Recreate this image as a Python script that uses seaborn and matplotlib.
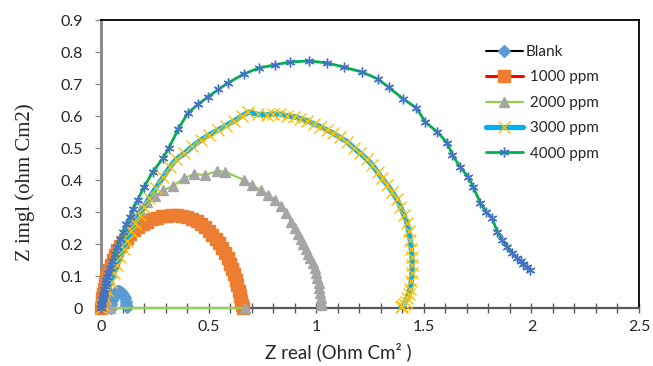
import numpy as np
import pandas as pd
import matplotlib
matplotlib.use("Agg")
import matplotlib.pyplot as plt
from matplotlib.ticker import MultipleLocator, FuncFormatter
import seaborn as sns

# Nyquist data (Z real, Z imag in Ohm cm2)
blank_x = [0.045, 0.047, 0.050, 0.055, 0.061, 0.068, 0.076, 0.084, 0.092, 0.099,
           0.105, 0.110, 0.114, 0.117, 0.119]
blank_y = [0.000, 0.012, 0.024, 0.035, 0.043, 0.049, 0.052, 0.053, 0.051, 0.046,
           0.039, 0.030, 0.020, 0.010, 0.002]

p1000_x = [0.000, 0.003, 0.006, 0.010, 0.014, 0.019, 0.024, 0.030, 0.037, 0.045,
           0.054, 0.064, 0.076, 0.089, 0.103, 0.119, 0.136, 0.154, 0.173, 0.193,
           0.214, 0.236, 0.259, 0.282, 0.306, 0.330, 0.354, 0.378, 0.401, 0.423,
           0.444, 0.464, 0.483, 0.501, 0.518, 0.534, 0.549, 0.563, 0.576, 0.588,
           0.599, 0.609, 0.618, 0.626, 0.634, 0.641, 0.647, 0.652, 0.656, 0.660]
p1000_y = [0.000, 0.015, 0.030, 0.045, 0.060, 0.075, 0.090, 0.105, 0.120, 0.135,
           0.150, 0.165, 0.180, 0.194, 0.207, 0.220, 0.232, 0.243, 0.253, 0.262,
           0.270, 0.277, 0.282, 0.286, 0.289, 0.290, 0.290, 0.288, 0.284, 0.278,
           0.271, 0.262, 0.252, 0.241, 0.229, 0.216, 0.202, 0.187, 0.171, 0.155,
           0.139, 0.122, 0.105, 0.088, 0.071, 0.054, 0.038, 0.023, 0.010, 0.000]

p2000_x = [0.670, 0.040, 0.010, 0.020, 0.035, 0.055, 0.075, 0.095, 0.120, 0.150,
           0.180, 0.215, 0.250, 0.290, 0.335, 0.385, 0.430, 0.485, 0.540, 0.575,
           0.665, 0.700, 0.742, 0.776, 0.810, 0.836, 0.860, 0.884, 0.900, 0.915,
           0.928, 0.940, 0.952, 0.962, 0.973, 0.984, 0.993, 1.000, 1.006, 1.011,
           1.015, 1.018, 1.020, 1.021, 1.022]
p2000_y = [0.000, 0.000, 0.020, 0.050, 0.090, 0.140, 0.180, 0.215, 0.250, 0.280,
           0.305, 0.330, 0.350, 0.368, 0.382, 0.405, 0.418, 0.416, 0.428, 0.426,
           0.400, 0.384, 0.369, 0.353, 0.338, 0.318, 0.296, 0.270, 0.250, 0.232,
           0.215, 0.200, 0.185, 0.170, 0.155, 0.140, 0.124, 0.108, 0.093, 0.077,
           0.062, 0.046, 0.031, 0.018, 0.008]

p3000_x = [0.000, 0.010, 0.020, 0.030, 0.045, 0.060, 0.075, 0.090, 0.105, 0.120,
           0.140, 0.160, 0.180, 0.200, 0.225, 0.255, 0.290, 0.320, 0.350, 0.387,
           0.425, 0.465, 0.500, 0.543, 0.580, 0.620, 0.655, 0.685, 0.730, 0.771,
           0.800, 0.833, 0.865, 0.895, 0.925, 0.957, 0.990, 1.019, 1.050, 1.080,
           1.110, 1.143, 1.175, 1.205, 1.235, 1.260, 1.285, 1.306, 1.330, 1.353,
           1.375, 1.391, 1.408, 1.422, 1.430, 1.437, 1.442, 1.445, 1.446, 1.445,
           1.442, 1.437, 1.430, 1.423, 1.415, 1.408, 1.400, 1.393]
p3000_y = [0.000, 0.010, 0.030, 0.055, 0.080, 0.110, 0.135, 0.160, 0.185, 0.210,
           0.240, 0.265, 0.290, 0.315, 0.345, 0.375, 0.410, 0.440, 0.465, 0.483,
           0.505, 0.525, 0.540, 0.556, 0.570, 0.585, 0.600, 0.612, 0.605, 0.603,
           0.606, 0.606, 0.600, 0.598, 0.592, 0.585, 0.575, 0.567, 0.556, 0.546,
           0.533, 0.520, 0.500, 0.483, 0.465, 0.447, 0.425, 0.405, 0.385, 0.363,
           0.340, 0.317, 0.290, 0.265, 0.240, 0.212, 0.185, 0.160, 0.135, 0.108,
           0.085, 0.060, 0.045, 0.032, 0.020, 0.012, 0.006, 0.002]

p4000_x = [0.000, 0.002, 0.004, 0.006, 0.008, 0.010, 0.012, 0.015, 0.018, 0.021,
           0.025, 0.029, 0.033, 0.042, 0.052, 0.063, 0.075, 0.088, 0.102, 0.117,
           0.133, 0.150, 0.170, 0.200, 0.240, 0.290, 0.315, 0.360, 0.403, 0.450,
           0.496, 0.545, 0.589, 0.663, 0.733, 0.810, 0.880, 0.965, 1.050, 1.127,
           1.215, 1.285, 1.336, 1.405, 1.466, 1.507, 1.563, 1.609, 1.633, 1.670,
           1.707, 1.730, 1.763, 1.790, 1.818, 1.841, 1.865, 1.888, 1.912, 1.934,
           1.950, 1.962, 1.978, 1.995]
p4000_y = [0.000, 0.008, 0.016, 0.024, 0.032, 0.040, 0.048, 0.058, 0.068, 0.078,
           0.088, 0.098, 0.108, 0.125, 0.148, 0.170, 0.192, 0.215, 0.238, 0.262,
           0.285, 0.310, 0.338, 0.378, 0.425, 0.470, 0.500, 0.560, 0.609, 0.636,
           0.659, 0.683, 0.703, 0.731, 0.750, 0.760, 0.769, 0.772, 0.766, 0.753,
           0.737, 0.716, 0.690, 0.653, 0.625, 0.581, 0.550, 0.516, 0.478, 0.440,
           0.409, 0.378, 0.328, 0.300, 0.281, 0.238, 0.213, 0.191, 0.172, 0.156,
           0.146, 0.138, 0.128, 0.119]

series = [
    # label, x, y, line colour, line width, marker, marker size, marker colour
    ("Blank", blank_x, blank_y, "black", 1.5, "D", 6.5, "#5B9BD5"),
    (" 1000 ppm", p1000_x, p1000_y, "#FF0000", 2.2, "s", 9, "#ED7D31"),
    (" 2000 ppm", p2000_x, p2000_y, "#92D050", 1.6, "^", 7.5, "#A5A5A5"),
    (" 3000 ppm", p3000_x, p3000_y, "#00B0F0", 3.8, "x", 8, "#FFC000"),
    (" 4000 ppm", p4000_x, p4000_y, "#00B050", 2.0, (6, 2, 0), 7, "#4472C4"),
]

sns.set_style("white")
plt.rcParams["font.family"] = ["Lato", "DejaVu Sans"]

fig = plt.figure(figsize=(6.53, 3.66), dpi=100)
ax = fig.add_axes([101 / 653, 1 - 308 / 366, 538 / 653, 288 / 366])

for i, (name, xs, ys, lc, lw, mk, ms, mc) in enumerate(series):
    df = pd.DataFrame({"zr": xs, "zi": ys})
    sns.lineplot(data=df, x="zr", y="zi", ax=ax, sort=False, estimator=None,
                 color=lc, linewidth=lw, marker=mk, markersize=ms,
                 markerfacecolor=mc, markeredgecolor=mc, markeredgewidth=1.0,
                 label=name, clip_on=False, zorder=3 + i)

ax.set_xlim(0, 2.5)
ax.set_ylim(0, 0.9)
ax.xaxis.set_major_locator(MultipleLocator(0.5))
ax.xaxis.set_minor_locator(MultipleLocator(0.1))
ax.yaxis.set_major_locator(MultipleLocator(0.1))
fmt = FuncFormatter(lambda v, p: f"{v:g}")
ax.xaxis.set_major_formatter(fmt)
ax.yaxis.set_major_formatter(fmt)

ax.tick_params(axis="x", which="both", direction="inout", length=7, width=1,
               color="#595959", bottom=True, labelsize=11.5, pad=5)
ax.tick_params(axis="y", which="major", direction="out", length=4, width=1,
               color="#8c8c8c", left=True, labelsize=11.5, pad=9)

ax.spines["left"].set_color("#8c8c8c")
ax.spines["left"].set_linewidth(2.2)
ax.spines["bottom"].set_color("#595959")
ax.spines["bottom"].set_linewidth(1.6)
for s in ["top", "right"]:
    ax.spines[s].set_color("black")
    ax.spines[s].set_linewidth(1.3)

ax.set_xlabel("")
ax.set_ylabel("")
fig.text(338 / 653, 1 - 352 / 366, "Z real (Ohm Cm\u00b2 )", ha="center", va="center",
         fontsize=13.5)
fig.text(25 / 653, 1 - 182 / 366, "Z imgl (ohm Cm2)", ha="center", va="center",
         rotation=90, fontsize=15, family=["Liberation Serif", "DejaVu Serif"])

handles, labels = ax.get_legend_handles_labels()
ax.legend(handles, labels, loc="upper left", bbox_to_anchor=(486 / 653, 1 - 45 / 366),
          bbox_transform=fig.transFigure, frameon=False, fontsize=11,
          handlelength=2.4, handletextpad=0.2, labelspacing=0.75,
          borderpad=0, borderaxespad=0, numpoints=1)

fig.savefig("out.png", dpi=100)
